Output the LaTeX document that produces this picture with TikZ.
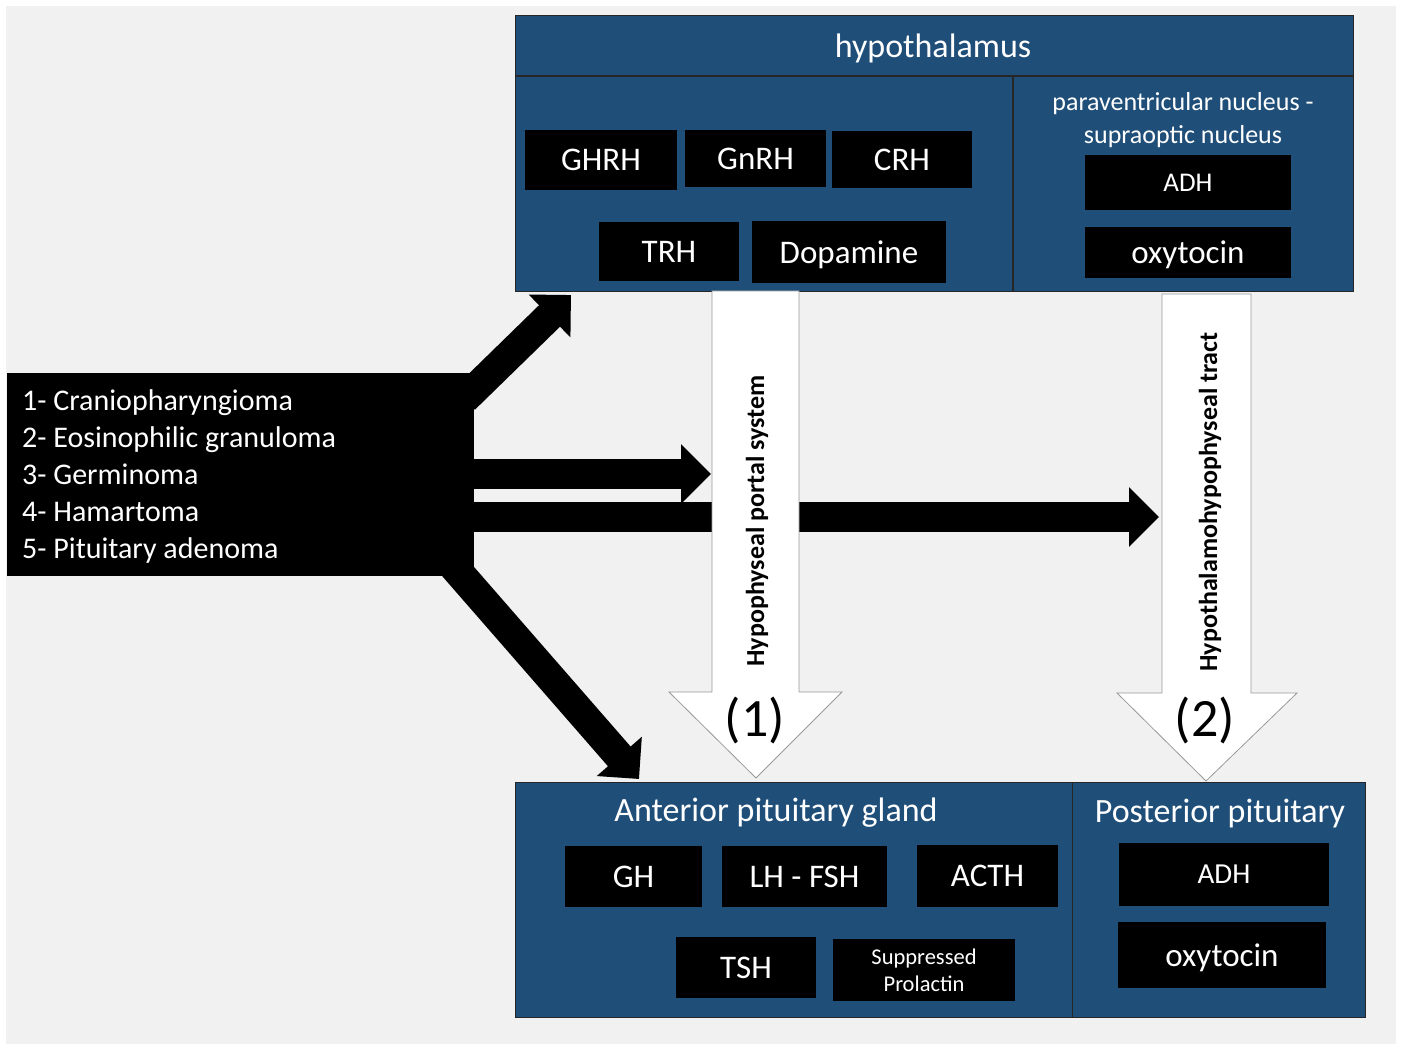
\documentclass[tikz,border=0pt]{standalone}
\usepackage{fontspec}
\setmainfont{Carlito}
\usetikzlibrary{arrows.meta,positioning}
\definecolor{panelblue}{HTML}{1F4E79}
\definecolor{bggray}{HTML}{F1F1F1}

\begin{document}
\begin{tikzpicture}[x=1pt,y=-1pt,
    panel/.style={draw=black!85, fill=panelblue, line width=1.2pt},
    hbox/.style={fill=black, text=white, inner sep=0pt, text depth=0pt, font=\fontsize{33}{38}\selectfont},
    title/.style={text=white, inner sep=0pt, text depth=0pt, font=\fontsize{34}{40}\selectfont},
    fatarrow/.style={line width=30pt, -{Triangle[length=30pt 0 1, width=58pt 0 1]}},
    blockarrow/.style={draw=gray!80, fill=white, line width=0.8pt},
    vtext/.style={rotate=90, inner sep=0pt, font=\bfseries\fontsize{26}{30}\selectfont}]

    \useasboundingbox (0,0) rectangle (1402,1048);
    \fill[bggray] (6,6) rectangle (1396,1044);

    % hypothalamus
    \node[panel, minimum width=838, minimum height=276, anchor=north west] (hypo) at (515,15) {};
    \draw[black!85, line width=1.2pt] (515,76) -- (1353,76) (1013,76) -- (1013,291);
    \node[title] (hypotitle) at (933,46) {hypothalamus};
    \node[title, align=center, font=\fontsize{26}{33}\selectfont] (nuclei) at (1183,118) {paraventricular nucleus -\\supraoptic nucleus};
    \node[hbox, minimum width=152, minimum height=60] (ghrh) at (601,160) {GHRH};
    \node[hbox, minimum width=141, minimum height=57] (gnrh) at (755.5,158.5) {GnRH};
    \node[hbox, minimum width=140, minimum height=57] (crh) at (902,159.5) {CRH};
    \node[hbox, minimum width=140, minimum height=59] (trh) at (669,251.5) {TRH};
    \node[hbox, minimum width=194, minimum height=62] (dopa) at (849,252) {Dopamine};
    \node[hbox, minimum width=206, minimum height=55, font=\fontsize{27}{32}\selectfont] (adhtop) at (1188,182.5) {ADH};
    \node[hbox, minimum width=206, minimum height=51] (oxytop) at (1188,252.5) {oxytocin};

    % pituitary
    \node[panel, minimum width=557, minimum height=235, anchor=north west] (ant) at (515,782) {};
    \node[panel, minimum width=293, minimum height=235, anchor=north west] (post) at (1072,782) {};
    \node[title] (anttitle) at (776,810) {Anterior pituitary gland};
    \node[title] (posttitle) at (1220,811) {Posterior pituitary};
    \node[hbox, minimum width=137, minimum height=61] (gh) at (633.5,876.5) {GH};
    \node[hbox, minimum width=165, minimum height=61] (lhfsh) at (804.5,876.5) {LH - FSH};
    \node[hbox, minimum width=141, minimum height=62] (acth) at (987.5,876) {ACTH};
    \node[hbox, minimum width=140, minimum height=61] (tsh) at (746,967.5) {TSH};
    \node[hbox, minimum width=182, minimum height=62, align=center, font=\fontsize{22.5}{27}\selectfont] (prl) at (924,970) {Suppressed\\Prolactin};
    \node[hbox, minimum width=210, minimum height=63, font=\fontsize{29}{34}\selectfont] (adhbot) at (1224,874.5) {ADH};
    \node[hbox, minimum width=208, minimum height=66] (oxybot) at (1222,955) {oxytocin};

    % tumours and their arrows
    \node[fill=black, minimum width=467, minimum height=203, anchor=north west] (tumor) at (7,373) {};
    \coordinate (uptip) at (571,295);
    \coordinate (downtip) at (639,779);
    \draw[fatarrow] ([xshift=-10pt,yshift=-26pt]tumor.north east) -- (uptip);
    \draw[fatarrow] (tumor.east |- 0,474) -- (711,474);
    \draw[fatarrow] (tumor.east |- 0,517) -- (1159,517);
    \draw[fatarrow] ([xshift=-26pt,yshift=16pt]tumor.south east) -- (downtip);
    \node[anchor=west, align=left, text=white, inner sep=0pt, font=\fontsize{30}{37}\selectfont] (list) at (22,476)
        {1- Craniopharyngioma\\2- Eosinophilic granuloma\\3- Germinoma\\4- Hamartoma\\5- Pituitary adenoma};

    % white pathways
    \draw[blockarrow] (712,291) -- (799,291) -- (799,692) -- (842,692) -- (756,778) -- (669,692) -- (712,692) -- cycle;
    \draw[blockarrow] (1162,294) -- (1251,294) -- (1251,693) -- (1297,693) -- (1206,781) -- (1117,693) -- (1162,693) -- cycle;
    \node[vtext] (portal) at (757,521) {Hypophyseal portal system};
    \node[vtext] (tract) at (1210,502) {Hypothalamohypophyseal tract};
    \node[inner sep=0pt, font=\fontsize{54}{60}\selectfont] (one) at (755,720) {(1)};
    \node[inner sep=0pt, font=\fontsize{54}{60}\selectfont] (two) at (1205,720) {(2)};

\end{tikzpicture}
\end{document}
